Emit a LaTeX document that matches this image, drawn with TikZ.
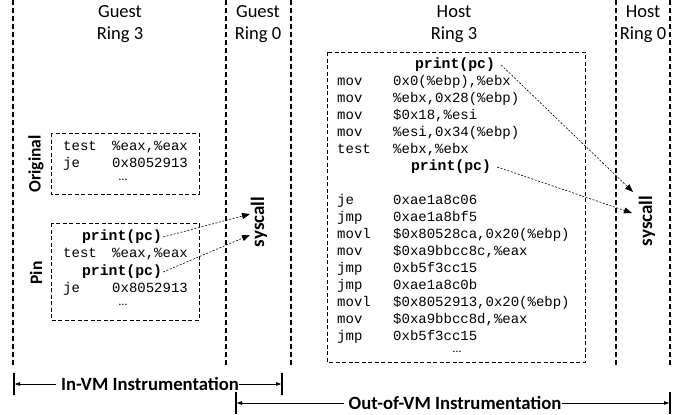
\documentclass[tikz,border=0pt]{standalone}
\usepackage{fontspec}
\setmainfont{Carlito}
\newfontfamily\codefont{Liberation Mono}
\usetikzlibrary{arrows.meta}
\tikzset{
  colline/.style={line width=1.1pt, dash pattern=on 5pt off 3pt},
  codebox/.style={line width=1pt, dash pattern=on 4pt off 2.5pt},
  hdr/.style={font=\fontsize{18.5}{22}\selectfont, align=center, inner sep=0pt},
  mn/.style={font=\codefont\fontsize{14}{17}\selectfont, anchor=west, inner sep=0pt, text height=9pt, text depth=2pt},
  prt/.style={font=\codefont\bfseries\fontsize{14.8}{17}\selectfont, inner sep=0pt, text height=9pt, text depth=2pt},
  dots/.style={font=\fontsize{12}{14}\selectfont, inner sep=0pt},
  vlab/.style={font=\bfseries\fontsize{17.5}{20}\selectfont, rotate=90, inner sep=0pt},
  lab/.style={font=\bfseries\fontsize{18.7}{22}\selectfont, inner sep=0pt},
  callarrow/.style={line width=0.6pt, dash pattern=on 2pt off 1.6pt, -{Triangle[length=8pt,width=6pt]}},
  spanarrow/.style={line width=0.9pt, -{Latex[length=6pt,width=4pt]}},
  bar/.style={line width=2pt}
}
\begin{document}
\begin{tikzpicture}[x=1pt,y=-1pt]
\useasboundingbox (0,0) rectangle (681,415);

% column separators
\draw[colline] (13,0) -- (13,366);
\draw[colline] (226,0) -- (226,366);
\draw[colline] (291,0) -- (291,366);
\draw[colline] (616,0) -- (616,366);
\draw[colline] (670,0) -- (670,366);

% headers
\node[hdr] (h1) at (120,24) {Guest\\Ring 3};
\node[hdr] (h2) at (258,24) {Guest\\Ring 0};
\node[hdr] (h3) at (454,24) {Host\\Ring 3};
\node[hdr] (h4) at (643,24) {Host\\Ring 0};

% guest boxes
\draw[codebox] (51,133) rectangle (199,194);
\draw[codebox] (51,223) rectangle (199,320);
\node[vlab] (orig) at (36,164) {Original};
\node[vlab] (pin) at (36,273) {Pin};

\node[mn] (o1) at (63,147) {test};
\node[mn] (o1b) at (112,147) {\%eax,\%eax};
\node[mn] (o2) at (63,164) {je};
\node[mn] (o2b) at (112,164) {0x8052913};
\node[dots] (o3) at (123,180) {…};

\node[prt] (gp1) at (122,237) {print(pc)};
\node[mn] (p2) at (63,254) {test};
\node[mn] (p2b) at (112,254) {\%eax,\%eax};
\node[prt] (gp2) at (122,272) {print(pc)};
\node[mn] (p4) at (63,289) {je};
\node[mn] (p4b) at (112,289) {0x8052913};
\node[dots] (p5) at (123,305) {…};

% guest syscall
\node[vlab, font=\bfseries\fontsize{19}{20}\selectfont] (gsys) at (259,222) {syscall};
\coordinate (gt1) at (250,214);
\coordinate (gt2) at (250,235);
\draw[callarrow] ([xshift=1pt]gp1.east) -- (gt1);
\draw[callarrow] ([xshift=1pt]gp2.east) -- (gt2);

% host box
\draw[codebox] (327,52) rectangle (585,362);
\node[prt] (hp1) at (455,65) {print(pc)};
\node[mn] (r1) at (337,82) {mov};   \node[mn] (r1b) at (393,82) {0x0(\%ebp),\%ebx};
\node[mn] (r2) at (337,99) {mov};   \node[mn] (r2b) at (393,99) {\%ebx,0x28(\%ebp)};
\node[mn] (r3) at (337,116) {mov};  \node[mn] (r3b) at (393,116) {\$0x18,\%esi};
\node[mn] (r4) at (337,133) {mov};  \node[mn] (r4b) at (393,133) {\%esi,0x34(\%ebp)};
\node[mn] (r5) at (337,150) {test}; \node[mn] (r5b) at (393,150) {\%ebx,\%ebx};
\node[prt] (hp2) at (451,167) {print(pc)};
\node[mn] (r8) at (337,201) {je};   \node[mn] (r8b) at (393,201) {0xae1a8c06};
\node[mn] (r9) at (337,218) {jmp};  \node[mn] (r9b) at (393,218) {0xae1a8bf5};
\node[mn] (r10) at (337,235) {movl}; \node[mn] (r10b) at (393,235) {\$0x80528ca,0x20(\%ebp)};
\node[mn] (r11) at (337,252) {mov};  \node[mn] (r11b) at (393,252) {\$0xa9bbcc8c,\%eax};
\node[mn] (r12) at (337,269) {jmp};  \node[mn] (r12b) at (393,269) {0xb5f3cc15};
\node[mn] (r13) at (337,286) {jmp};  \node[mn] (r13b) at (393,286) {0xae1a8c0b};
\node[mn] (r14) at (337,303) {movl}; \node[mn] (r14b) at (393,303) {\$0x8052913,0x20(\%ebp)};
\node[mn] (r15) at (337,320) {mov};  \node[mn] (r15b) at (393,320) {\$0xa9bbcc8d,\%eax};
\node[mn] (r16) at (337,337) {jmp};  \node[mn] (r16b) at (393,337) {0xb5f3cc15};
\node[dots] (r17) at (457,352) {…};

% host syscall
\node[vlab, font=\bfseries\fontsize{19}{20}\selectfont] (hsys) at (647,221) {syscall};
\coordinate (ht1) at (633,192);
\coordinate (ht2) at (632,213);
\draw[callarrow] ([xshift=6pt]hp1.east) -- (ht1);
\draw[callarrow] ([xshift=6pt]hp2.east) -- (ht2);

% span arrows
\coordinate (aL) at (14,384);
\coordinate (aR) at (282,384);
\draw[bar] (14,373) -- (14,395);
\draw[bar] (282,373) -- (282,395);
\node[lab] (invm) at (150,384) {In-VM Instrumentation};
\draw[spanarrow] ([xshift=-5pt]invm.west) -- (aL);
\draw[spanarrow] (invm.east) -- (aR);

\coordinate (bL) at (236,403);
\coordinate (bR) at (670,403);
\draw[bar] (236,392) -- (236,414);
\draw[bar] (670,392) -- (670,414);
\node[lab] (outvm) at (455,403) {Out-of-VM Instrumentation};
\draw[spanarrow] ([xshift=-4pt]outvm.west) -- (bL);
\draw[spanarrow] (outvm.east) -- (bR);
\end{tikzpicture}
\end{document}
